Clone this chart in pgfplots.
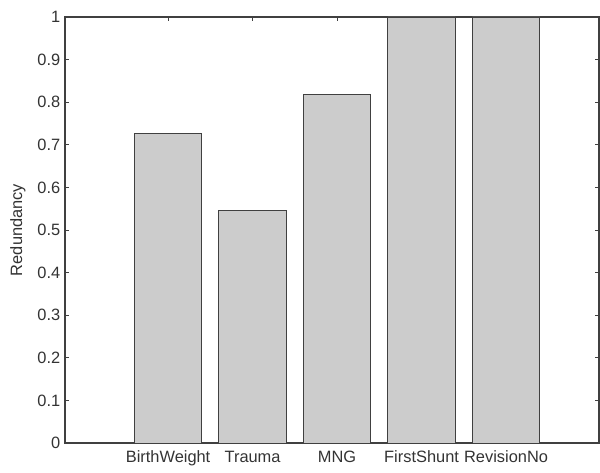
\documentclass[border=0pt]{standalone}
\usepackage{fontspec}
\setmainfont{Liberation Sans}
\usepackage{pgfplots}
\pgfplotsset{compat=1.18}
\definecolor{axgray}{HTML}{404040}
\definecolor{barfill}{HTML}{CCCCCC}
\begin{document}
\begin{tikzpicture}
\begin{axis}[
  scale only axis,
  width=400.5pt, height=319.5pt,
  xmin=-0.22, xmax=6.1, ymin=0, ymax=1,
  bar width=0.8,
  xtick={1,2,3,4,5},
  xticklabels={BirthWeight,Trauma,MNG,FirstShunt,RevisionNo},
  ytick={0,0.1,0.2,0.3,0.4,0.5,0.6,0.7,0.8,0.9,1},
  yticklabel style={/pgf/number format/fixed, /pgf/number format/assume math mode=true},
  xticklabel style={yshift=-2.5pt},
  tick align=inside,
  major tick length=3pt,
  axis line style={axgray, line width=0.8pt},
  every tick/.style={axgray, line width=0.6pt},
  tick label style={font=\fontsize{12.3}{14}\selectfont, text=black!80},
  ylabel={Redundancy},
  ylabel style={font=\fontsize{12.3}{14}\selectfont, text=black!80, at={(axis description cs:-0.088,0.5)}, rotate=0, anchor=center},
]
\addplot[ybar, bar shift=0pt, fill=barfill, draw=axgray, line width=0.7pt]
  coordinates {(1,0.726) (2,0.545) (3,0.819) (4,1) (5,1)};
\end{axis}
\pgfresetboundingbox
\path (current axis.south west) +(-48.75pt,-22.5pt) (current axis.north east) +(0.75pt,12.75pt);
\end{tikzpicture}
\end{document}
